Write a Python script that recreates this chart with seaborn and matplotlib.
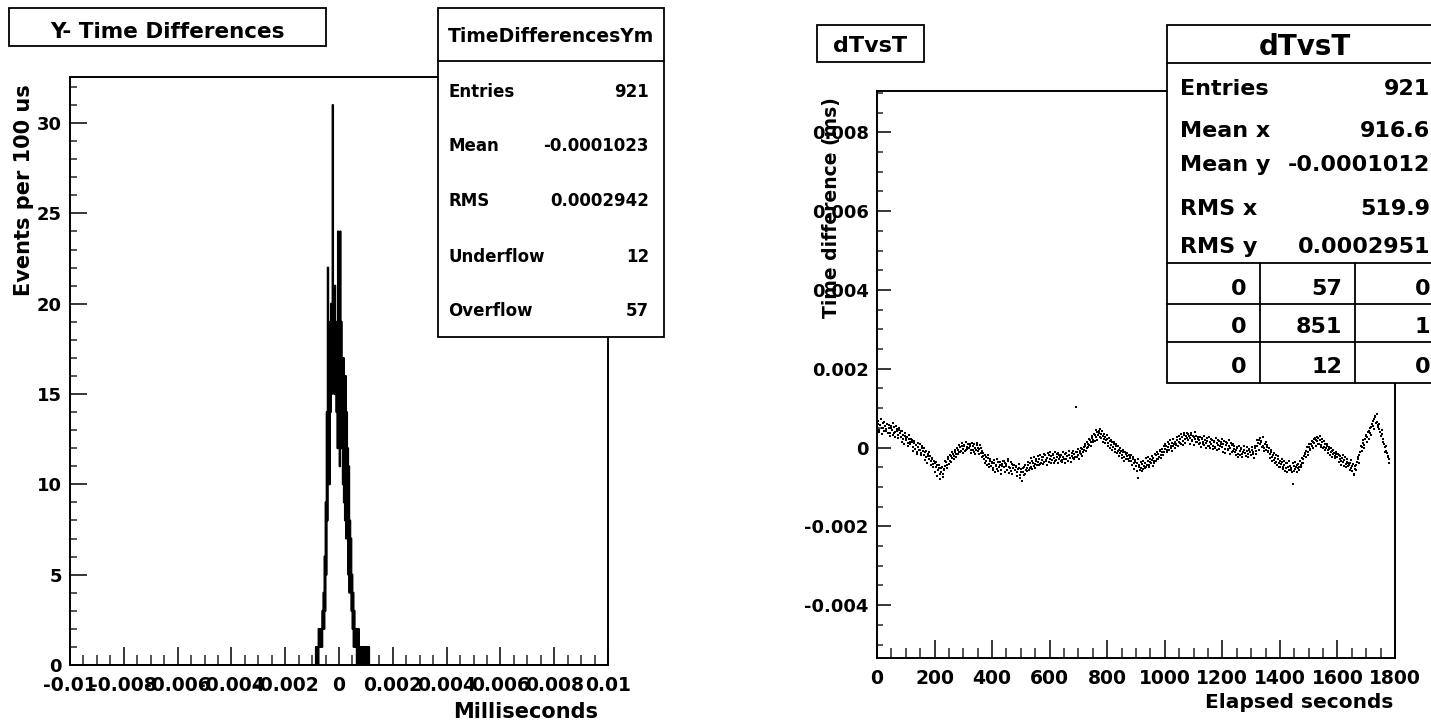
import numpy as np
import pandas as pd
import matplotlib
matplotlib.use("Agg")
import matplotlib.pyplot as plt
from matplotlib.patches import Rectangle
from matplotlib.lines import Line2D
import seaborn as sns

# ---------------- data: left histogram ----------------
hist_title = "Y- Time Differences"
hist_xlabel = "Milliseconds"
hist_ylabel = "Events per 100 us"
hist_range = (-0.01, 0.01)
hist_bin_width = 0.00002
hist_first_edge = -0.00088
hist_counts = [
    0, 1, 0, 1, 1, 0, 2, 1, 1,
    2, 1, 2, 1, 3, 2,
    4, 2, 6, 3, 9, 5,
    14, 8, 22, 11, 16, 10,
    19, 14, 20, 15, 18, 31,
    16, 20, 15, 21, 17, 19,
    14, 18, 12, 24, 13, 20,
    11, 24, 14, 19, 12, 17,
    10, 17, 9, 15, 8, 16,
    7, 14, 9, 12, 5, 11,
    4, 8, 6, 7, 3, 5,
    2, 4, 1, 3, 2, 1,
    1, 2, 0, 1, 1, 2, 0, 1, 1, 0,
    1, 0, 1, 0, 0, 1, 1, 0, 0, 1, 0, 1, 0, 0, 1,
]
hist_xticks = [-0.01, -0.008, -0.006, -0.004, -0.002, 0.0, 0.002, 0.004, 0.006, 0.008, 0.01]
hist_xticklabels = ["-0.01", "-0.008", "-0.006", "-0.004", "-0.002", "0",
                    "0.002", "0.004", "0.006", "0.008", "0.01"]
hist_yticks = [0, 5, 10, 15, 20, 25, 30]
hist_ymax = 32.55
hist_stats_name = "TimeDifferencesYm"
hist_stats_labels = ["Entries", "Mean", "RMS", "Underflow", "Overflow"]
hist_stats_values = ["921", "-0.0001023", "0.0002942", "12", "57"]

# ---------------- data: right scatter ----------------
scat_title = "dTvsT"
scat_xlabel = "Elapsed seconds"
scat_ylabel = "Time difference (ms)"
# samples read in two interleaved sets (time in s, difference in units of 1e-3 ms)
elapsed_s_a = list(range(0, 1784, 4))
dt_ms_e3_a = [
    0.52, 0.61, 0.44, 0.58, 0.49, 0.63, 0.41, 0.55, 0.47, 0.59,
    0.50, 0.38, 0.56, 0.45, 0.33, 0.52, 0.40, 0.47, 0.31, 0.44,
    0.36, 0.27, 0.41, 0.22, 0.30, 0.18, 0.26, 0.12, 0.21, 0.08,
    0.14, 0.02, 0.11, -0.04, 0.06, -0.10, 0.01, -0.05, -0.13, -0.02,
    -0.08, -0.19, -0.12, -0.25, -0.16, -0.30, -0.22, -0.35, -0.28, -0.41,
    -0.38, -0.50, -0.44, -0.58, -0.52, -0.66, -0.61, -0.74, -0.55, -0.47,
    -0.36, -0.44, -0.29, -0.33, -0.21, -0.27, -0.15, -0.22, -0.10, -0.17,
    -0.05, -0.12, 0.02, -0.08, 0.04, -0.03, 0.06, -0.06, 0.01, 0.08,
    -0.02, 0.05, -0.07, 0.03, -0.11, 0.00, -0.05, 0.07, -0.09, -0.03,
    -0.14, -0.08, -0.22, -0.30, -0.18, -0.35, -0.27, -0.41, -0.33, -0.46,
    -0.40, -0.52, -0.38, -0.47, -0.55, -0.36, -0.49, -0.43, -0.58, -0.41,
    -0.50, -0.39, -0.46, -0.56, -0.33, -0.48, -0.60, -0.42, -0.53, -0.45,
    -0.57, -0.46, -0.63, -0.51, -0.70, -0.55, -0.84, -0.61, -0.49, -0.66,
    -0.52, -0.44, -0.58, -0.38, -0.49, -0.33, -0.46, -0.41, -0.30, -0.43,
    -0.36, -0.28, -0.42, -0.31, -0.24, -0.37, -0.20, -0.33, -0.27, -0.18,
    -0.29, -0.21, -0.32, -0.17, -0.26, -0.35, -0.23, -0.14, -0.30, -0.25,
    -0.19, -0.31, -0.24, -0.16, -0.28, -0.22, -0.34, -0.18, -0.26, -0.21,
    -0.27, -0.15, -0.23, 1.04, -0.12, -0.20, -0.08, -0.16, -0.04, -0.11,
    -0.06, 0.03, -0.02, 0.10, 0.07, 0.18, 0.13, 0.24, 0.20, 0.31,
    0.28, 0.39, 0.33, 0.42, 0.26, 0.35, 0.30, 0.21, 0.27, 0.18,
    0.22, 0.12, 0.17, 0.06, 0.13, 0.01, 0.08, -0.04, 0.03, -0.08,
    -0.05, -0.14, -0.09, -0.20, -0.12, -0.25, -0.16, -0.21, -0.29, -0.18,
    -0.27, -0.34, -0.24, -0.40, -0.31, -0.47, -0.38, -0.76, -0.44, -0.52,
    -0.41, -0.55, -0.46, -0.38, -0.50, -0.34, -0.43, -0.29, -0.39, -0.32,
    -0.27, -0.35, -0.20, -0.28, -0.15, -0.23, -0.09, -0.18, -0.04, -0.12,
    -0.03, 0.05, -0.07, 0.02, 0.09, -0.01, 0.12, 0.04, 0.10, 0.15,
    0.08, 0.18, 0.13, 0.22, 0.10, 0.27, 0.16, 0.31, 0.21, 0.25,
    0.19, 0.29, 0.24, 0.33, 0.17, 0.26, 0.21, 0.30, 0.14, 0.23,
    0.18, 0.11, 0.25, 0.15, 0.07, 0.20, 0.12, 0.16, 0.04, 0.13,
    0.09, 0.19, 0.05, 0.14, 0.01, 0.11, 0.07, 0.17, 0.03, 0.08,
    0.02, 0.10, -0.03, 0.06, 0.12, -0.06, 0.04, -0.01, 0.07, -0.08,
    -0.04, -0.12, -0.07, 0.01, -0.15, -0.09, -0.03, -0.17, -0.11, -0.06,
    -0.13, -0.08, -0.16, -0.05, -0.12, -0.19, -0.07, -0.10, -0.02, -0.09,
    0.03, 0.12, 0.18, 0.08, 0.15, 0.05, -0.02, 0.09, -0.06, 0.01,
    -0.08, -0.17, -0.12, -0.24, -0.20, -0.31, -0.26, -0.36, -0.29, -0.40,
    -0.33, -0.42, -0.37, -0.48, -0.44, -0.53, -0.40, -0.49, -0.56, -0.46,
    -0.51, -0.93, -0.47, -0.54, -0.50, -0.45, -0.52, -0.48, -0.43, -0.38,
    -0.30, -0.22, -0.16, -0.08, -0.11, 0.02, -0.03, 0.08, 0.05, 0.14,
    0.12, 0.20, 0.16, 0.24, 0.10, 0.18, 0.07, 0.13, 0.02, 0.08,
    -0.01, 0.05, -0.07, -0.03, -0.12, -0.08, -0.17, -0.13, -0.21, -0.16,
    -0.24, -0.19, -0.28, -0.33, -0.26, -0.37, -0.31, -0.42, -0.36, -0.39,
    -0.45, -0.38, -0.52, -0.47, -0.66, -0.55, -0.44, -0.36, -0.28, -0.19,
    -0.12, 0.02, 0.11, 0.07, 0.22, 0.31, 0.26, 0.43, 0.38, 0.52,
    0.61, 0.55, 0.72, 0.80, 0.66, 0.58, 0.47, 0.39, 0.29, 0.35,
    0.15, 0.02, -0.08, -0.14, -0.22, -0.30,
]
elapsed_s_b = list(range(2, 1780, 4))
dt_ms_e3_b = [
    0.68, 0.40, 0.57, 0.72, 0.35, 0.49, 0.66, 0.43, 0.60, 0.37,
    0.58, 0.29, 0.49, 0.62, 0.36, 0.27, 0.55, 0.41, 0.24, 0.50,
    0.42, 0.15, 0.33, 0.09, 0.37, 0.24, 0.05, 0.31, 0.14, 0.22,
    0.20, -0.09, 0.16, 0.07, -0.15, 0.12, -0.07, 0.09, -0.20, 0.04,
    -0.02, -0.31, -0.09, -0.38, -0.21, -0.12, -0.43, -0.26, -0.49, -0.33,
    -0.62, -0.36, -0.71, -0.45, -0.80, -0.53, -0.49, -0.66, -0.58, -0.35,
    -0.52, -0.24, -0.41, -0.18, -0.37, -0.11, -0.30, -0.06, -0.25, -0.02,
    -0.16, 0.07, -0.10, 0.12, -0.14, 0.05, -0.09, 0.14, -0.04, 0.10,
    0.09, -0.13, 0.11, -0.06, 0.08, -0.15, 0.12, -0.01, -0.17, 0.06,
    -0.02, -0.25, -0.13, -0.38, -0.24, -0.44, -0.20, -0.50, -0.29, -0.37,
    -0.56, -0.31, -0.62, -0.44, -0.29, -0.60, -0.37, -0.66, -0.47, -0.33,
    -0.35, -0.61, -0.42, -0.28, -0.64, -0.51, -0.37, -0.68, -0.44, -0.57,
    -0.48, -0.72, -0.55, -0.41, -0.77, -0.62, -0.52, -0.69, -0.45, -0.58,
    -0.60, -0.36, -0.51, -0.27, -0.55, -0.40, -0.25, -0.52, -0.35, -0.22,
    -0.45, -0.19, -0.38, -0.23, -0.41, -0.16, -0.32, -0.44, -0.13, -0.36,
    -0.12, -0.38, -0.18, -0.40, -0.10, -0.31, -0.15, -0.39, -0.20, -0.33,
    -0.36, -0.11, -0.29, -0.40, -0.14, -0.33, -0.09, -0.27, -0.37, -0.13,
    -0.08, -0.30, -0.11, -0.24, -0.03, -0.28, -0.14, -0.01, -0.22, 0.02,
    0.09, -0.08, 0.15, 0.01, 0.22, 0.05, 0.29, 0.14, 0.35, 0.17,
    0.45, 0.20, 0.37, 0.47, 0.24, 0.41, 0.15, 0.34, 0.12, 0.31,
    0.05, 0.24, -0.02, 0.19, -0.06, 0.15, -0.11, 0.10, -0.13, 0.04,
    -0.21, 0.00, -0.27, -0.06, -0.33, -0.10, -0.29, -0.13, -0.35, -0.24,
    -0.20, -0.45, -0.30, -0.54, -0.36, -0.60, -0.28, -0.49, -0.57, -0.37,
    -0.59, -0.33, -0.52, -0.27, -0.45, -0.24, -0.50, -0.37, -0.21, -0.46,
    -0.40, -0.16, -0.33, -0.10, -0.30, -0.05, -0.26, -0.11, -0.19, 0.03,
    0.10, -0.12, 0.14, -0.05, 0.19, 0.03, -0.08, 0.21, -0.02, 0.06,
    0.26, 0.03, 0.30, 0.12, 0.35, 0.07, 0.38, 0.11, 0.29, 0.36,
    0.35, 0.10, 0.38, 0.18, 0.30, 0.06, 0.40, 0.15, 0.28, 0.09,
    0.28, 0.02, 0.21, 0.08, 0.30, -0.01, 0.24, 0.05, 0.26, 0.00,
    0.22, -0.04, 0.17, 0.00, 0.25, -0.06, 0.19, -0.03, 0.14, 0.21,
    -0.10, 0.17, -0.13, 0.14, -0.04, 0.19, -0.15, 0.11, -0.11, 0.08,
    0.05, -0.20, -0.02, -0.24, 0.04, -0.19, -0.01, -0.23, 0.03, -0.14,
    -0.22, 0.01, -0.25, -0.03, -0.20, 0.02, -0.17, -0.26, 0.04, -0.15,
    0.20, -0.05, 0.25, 0.16, 0.02, 0.26, -0.08, 0.13, 0.07, -0.12,
    -0.02, -0.26, -0.05, -0.33, -0.14, -0.39, -0.19, -0.45, -0.22, -0.48,
    -0.50, -0.29, -0.55, -0.33, -0.60, -0.39, -0.62, -0.35, -0.47, -0.58,
    -0.63, -0.40, -0.59, -0.36, -0.61, -0.42, -0.56, -0.35, -0.50, -0.26,
    -0.38, -0.14, -0.25, 0.01, -0.19, 0.09, -0.06, 0.16, -0.02, 0.22,
    0.25, 0.04, 0.28, 0.09, 0.30, 0.01, 0.23, 0.00, 0.17, -0.05,
    0.10, -0.14, 0.02, -0.19, -0.02, -0.24, -0.05, -0.27, -0.10, -0.25,
    -0.15, -0.36, -0.22, -0.43, -0.20, -0.46, -0.25, -0.50, -0.30, -0.47,
    -0.56, -0.31, -0.60, -0.42, -0.70, -0.47, -0.57, -0.25, -0.40, -0.12,
    0.05, -0.08, 0.19, 0.00, 0.30, 0.15, 0.40, 0.21, 0.50, 0.33,
    0.68, 0.47, 0.78, 0.62, 0.85, 0.52, 0.60, 0.30, 0.44, 0.22,
    0.08, -0.12, 0.05, -0.25, -0.40,
]
scat_xlim = (0, 1800)
scat_ylim = (-0.00534, 0.00905)
scat_xticks = [0, 200, 400, 600, 800, 1000, 1200, 1400, 1600, 1800]
scat_yticks = [-0.004, -0.002, 0.0, 0.002, 0.004, 0.006, 0.008]
scat_yticklabels = ["-0.004", "-0.002", "0", "0.002", "0.004", "0.006", "0.008"]
scat_stats_labels = ["Entries", "Mean x", "Mean y", "RMS x", "RMS y"]
scat_stats_values = ["921", "916.6", "-0.0001012", "519.9", "0.0002951"]
scat_grid = [["0", "57", "0"], ["0", "851", "1"], ["0", "12", "0"]]

# ---------------- figure ----------------
sns.set_style("white")
plt.rcParams["font.family"] = ["DejaVu Sans"]
plt.rcParams["font.weight"] = "bold"

W, H = 1431, 723
fig = plt.figure(figsize=(W / 100, H / 100), dpi=100)
fig.patch.set_facecolor("white")


def fx(x):
    return x / W


def fy(y):
    return 1 - y / H


def ftext(x, y, s, size, ha="left", va="baseline", rot=0):
    fig.text(fx(x), fy(y), s, fontsize=size, fontweight="bold", ha=ha, va=va,
             rotation=rot, color="black", zorder=10)


def frect(x0, y0, x1, y1, lw=1.3):
    fig.add_artist(Rectangle((fx(x0), fy(y1)), fx(x1) - fx(x0), fy(y0) - fy(y1),
                             transform=fig.transFigure, facecolor="white",
                             edgecolor="black", linewidth=lw, zorder=8))


def fline(x0, y0, x1, y1, lw=1.3):
    fig.add_artist(Line2D([fx(x0), fx(x1)], [fy(y0), fy(y1)],
                          transform=fig.transFigure, color="black",
                          linewidth=lw, zorder=9))


def style_axes(ax, xmaj, ymaj):
    for sp in ax.spines.values():
        sp.set_visible(True)
        sp.set_color("black")
        sp.set_linewidth(1.4)
    ax.tick_params(axis="x", which="major", direction="in", length=xmaj[0], width=1.1,
                   top=False, bottom=True, labelsize=13.5, pad=8, colors="black")
    ax.tick_params(axis="x", which="minor", direction="in", length=xmaj[1], width=1.1,
                   top=False, bottom=True)
    ax.tick_params(axis="y", which="major", direction="in", length=ymaj[0], width=1.1,
                   left=True, right=False, labelsize=13, pad=6, colors="black")
    ax.tick_params(axis="y", which="minor", direction="in", length=ymaj[1], width=1.1,
                   left=True, right=False)
    for lab in ax.get_xticklabels() + ax.get_yticklabels():
        lab.set_fontweight("bold")
    ax.set_xlabel("")
    ax.set_ylabel("")
    ax.grid(False)


# ---------- left: histogram ----------
ax1 = fig.add_axes([fx(70), fy(665), fx(608) - fx(70), fy(77) - fy(665)])
centers = hist_first_edge + hist_bin_width * (np.arange(len(hist_counts)) + 0.5)
hdf = pd.DataFrame({"ms": centers, "n": hist_counts})
sns.histplot(data=hdf, x="ms", weights="n", binwidth=hist_bin_width,
             binrange=hist_range, element="step", fill=False,
             color="black", linewidth=1.4, ax=ax1)
ax1.set_xlim(*hist_range)
ax1.set_ylim(0, hist_ymax)
ax1.set_xticks(hist_xticks)
ax1.set_xticklabels(hist_xticklabels)
ax1.set_xticks(np.arange(-0.01, 0.01001, 0.0005), minor=True)
ax1.set_yticks(hist_yticks)
ax1.set_yticks(np.arange(0, 33, 1), minor=True)
style_axes(ax1, (13, 7), (12, 5))

# ---------- right: scatter ----------
ax2 = fig.add_axes([fx(877), fy(658), fx(1395) - fx(877), fy(91) - fy(658)])
sdf = pd.DataFrame({"t": elapsed_s_a + elapsed_s_b,
                    "dt": np.array(dt_ms_e3_a + dt_ms_e3_b) * 1e-3})
sns.scatterplot(data=sdf, x="t", y="dt", marker="s", s=3.2, color="black",
                linewidth=0, ax=ax2)
ax2.set_xlim(*scat_xlim)
ax2.set_ylim(*scat_ylim)
ax2.set_xticks(scat_xticks)
ax2.set_xticks(np.arange(0, 1801, 50), minor=True)
ax2.set_yticks(scat_yticks)
ax2.set_yticklabels(scat_yticklabels)
ax2.set_yticks(np.arange(-0.005, 0.00901, 0.0005), minor=True)
style_axes(ax2, (13, 7), (10, 4.5))

# ---------- axis titles ----------
ftext(598, 712, hist_xlabel, 15, ha="right", va="center")
ftext(24, 190, hist_ylabel, 15, ha="center", va="center", rot=90)
ftext(1393, 702, scat_xlabel, 14.5, ha="right", va="center")
ftext(832, 208, scat_ylabel, 13.5, ha="center", va="center", rot=90)

# ---------- left title + stats ----------
frect(9, 8, 326, 46)
ftext(167, 38, hist_title, 15.5, ha="center")
frect(438, 8, 664, 337)
fline(438, 61, 664, 61)
ftext(551, 42, hist_stats_name, 13.5, ha="center")
for lab, val, yb in zip(hist_stats_labels, hist_stats_values, [97, 151, 206, 262, 316]):
    ftext(448, yb, lab, 12)
    ftext(649, yb, val, 12, ha="right")

# ---------- right title + stats ----------
frect(817, 25, 924, 62)
ftext(870, 52, scat_title, 16, ha="center")
frect(1167, 25, 1445, 383)
fline(1167, 63, 1445, 63)
ftext(1305, 55, scat_title, 20, ha="center")
for lab, val, yb in zip(scat_stats_labels, scat_stats_values, [95, 137, 171, 215, 253]):
    ftext(1180, yb, lab, 16)
    ftext(1430, yb, val, 16, ha="right")
fline(1167, 263, 1445, 263)
fline(1167, 304, 1445, 304)
fline(1167, 342, 1445, 342)
fline(1260, 263, 1260, 383)
fline(1355, 263, 1355, 383)
for row, yb in zip(scat_grid, [295, 333, 373]):
    for cell, xr in zip(row, [1246, 1342, 1430]):
        ftext(xr, yb, cell, 16, ha="right")

fig.savefig("out.png", dpi=100, facecolor="white")
